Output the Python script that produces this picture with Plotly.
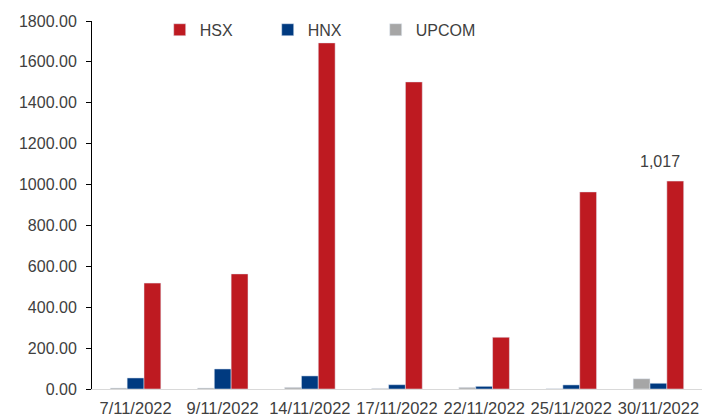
import plotly.graph_objects as go

dates = ["7/11/2022", "9/11/2022", "14/11/2022", "17/11/2022", "22/11/2022", "25/11/2022", "30/11/2022"]
hsx = [518, 563, 1693, 1502, 253, 964, 1017]
hnx = [54, 98, 64, 21, 13, 20, 28]
upcom = [5, 5, 8, 3, 8, 2, 50]

font = "Liberation Sans, Arial, sans-serif"
fig = go.Figure()
fig.add_trace(go.Bar(name="UPCOM", x=dates, y=upcom, marker_color="#A6A6A6"))
fig.add_trace(go.Bar(name="HNX", x=dates, y=hnx, marker_color="#003A80"))
fig.add_trace(go.Bar(name="HSX", x=dates, y=hsx, marker_color="#BE1A21"))

fig.add_annotation(x=dates[-1], y=hsx[-1], text=f"{hsx[-1]:,}", showarrow=False,
                   yanchor="bottom", yshift=9, xshift=2, font=dict(family=font, size=16, color="#404040"))

fig.update_layout(
    width=719, height=417,
    margin=dict(l=92, r=17, t=21, b=28, autoexpand=False),
    paper_bgcolor="white", plot_bgcolor="white",
    barmode="group", bargap=0.42, bargroupgap=0,
    font=dict(family=font, size=16, color="#404040"),
    showlegend=True,
    legend=dict(orientation="h", x=0.111, y=0.976, xanchor="left", yanchor="middle",
                traceorder="reversed", entrywidth=63, font=dict(size=16, color="#404040"),
                bgcolor="rgba(0,0,0,0)", itemwidth=30),
    xaxis=dict(showgrid=False, showline=True, linecolor="#D9D9D9", linewidth=1,
               ticks="", tickfont=dict(size=16.5), ticklabelstandoff=4),
    yaxis=dict(range=[0, 1800], dtick=200, tickformat=".2f", showgrid=False, zeroline=False,
               showline=True, linecolor="#000000", linewidth=1, ticks="outside", ticklen=5,
               tickcolor="#000000", tickfont=dict(size=16), ticklabelstandoff=6),
)
fig.write_html("out.html", config={"displayModeBar": False},
               post_script="document.body.style.margin='0';document.body.style.overflow='hidden';")
